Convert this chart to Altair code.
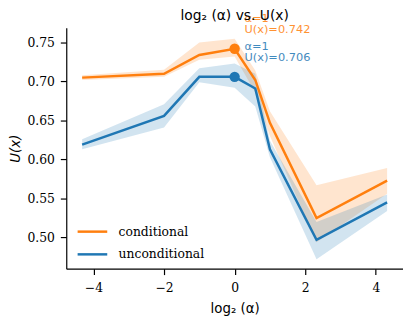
import altair as alt
import pandas as pd

# data
log2_alpha = [-4.32, -2.0, -1.0, 0.0, 0.585, 1.0, 2.32, 4.32]
series_names = ["conditional", "unconditional"]
cond_mean = [0.705, 0.710, 0.734, 0.742, 0.702, 0.647, 0.525, 0.573]
cond_lo = [0.702, 0.706, 0.728, 0.732, 0.686, 0.630, 0.494, 0.556]
cond_hi = [0.708, 0.715, 0.750, 0.755, 0.714, 0.662, 0.567, 0.589]
unc_mean = [0.619, 0.656, 0.706, 0.706, 0.691, 0.613, 0.497, 0.545]
unc_lo = [0.613, 0.641, 0.699, 0.692, 0.668, 0.603, 0.472, 0.534]
unc_hi = [0.626, 0.671, 0.717, 0.723, 0.710, 0.624, 0.520, 0.555]
colors = ["#ff7f0e", "#1f77b4"]
best_x = 0.0
best_vals = [0.742, 0.706]

rows = []
for name, m, lo, hi in [(series_names[0], cond_mean, cond_lo, cond_hi),
                        (series_names[1], unc_mean, unc_lo, unc_hi)]:
    for x, a, b, c in zip(log2_alpha, m, lo, hi):
        rows.append({"x": x, "y": a, "lo": b, "hi": c, "series": name, "grp": name})
df = pd.DataFrame(rows)

best_df = pd.DataFrame({"x": [best_x, best_x], "y": best_vals, "grp": series_names,
                        "l1": ["α=1", "α=1"],
                        "l2": [f"U(x)={v:.3f}" for v in best_vals]})

xs = alt.Scale(domain=[-4.77, 4.77], nice=False, zero=False)
ys = alt.Scale(domain=[0.460, 0.769], nice=False, zero=False)
cs = alt.Scale(domain=series_names, range=colors)
# fill scale: data-driven domain (alphabetical = same order), kept separate from the legend scale
cs2 = alt.Scale(range=colors)

X = alt.X("x:Q", scale=xs, axis=alt.Axis(values=[-4, -2, 0, 2, 4], format="d", title="log₂ (α)"))
Y = alt.Y("y:Q", scale=ys, axis=alt.Axis(values=[0.50, 0.55, 0.60, 0.65, 0.70, 0.75], format=".2f", title="U(x)"))

band = alt.Chart(df).mark_area(opacity=0.2).encode(
    x=alt.X("x:Q", scale=xs),
    y=alt.Y("lo:Q", scale=ys),
    y2="hi:Q",
    fill=alt.Fill("grp:N", scale=cs2, legend=None),
    detail="grp:N",
)

lines = alt.Chart(df).mark_line(strokeWidth=2.5).encode(
    x=X,
    y=Y,
    color=alt.Color("series:N", scale=cs,
                    legend=alt.Legend(title=None, orient="none", legendX=10, legendY=190,
                                      symbolType="stroke", symbolSize=900, symbolStrokeWidth=2.5,
                                      labelFont="DejaVu Serif", labelFontSize=12.5, labelOffset=10,
                                      labelColor="black", rowPadding=-2.5)),
)

pts = alt.Chart(best_df).mark_point(filled=True, size=110, opacity=1).encode(
    x=alt.X("x:Q", scale=xs),
    y=alt.Y("y:Q", scale=ys),
    fill=alt.Fill("grp:N", scale=cs2, legend=None),
)

t1 = alt.Chart(best_df).mark_text(align="left", baseline="middle", dx=10, dy=-30,
                                   font="DejaVu Sans", fontSize=11.5, opacity=0.85).encode(
    x=alt.X("x:Q", scale=xs), y=alt.Y("y:Q", scale=ys), text="l1:N",
    fill=alt.Fill("grp:N", scale=cs2, legend=None),
)
t2 = alt.Chart(best_df).mark_text(align="left", baseline="middle", dx=10, dy=-19,
                                   font="DejaVu Sans", fontSize=11.5, opacity=0.85).encode(
    x=alt.X("x:Q", scale=xs), y=alt.Y("y:Q", scale=ys), text="l2:N",
    fill=alt.Fill("grp:N", scale=cs2, legend=None),
)

chart = alt.layer(band, lines, pts, t1, t2).properties(
    width=341, height=244,
    title=alt.Title("log₂ (α) vs. U(x)", font="DejaVu Sans", fontSize=14, fontWeight="normal",
                    anchor="middle", offset=4, dy=14, color="black"),
    padding={"left": 59, "top": 18, "right": 0, "bottom": 50},
    autosize=alt.AutoSizeParams(type="none"),
).configure_view(stroke=None).configure_axis(
    grid=False, domainColor="black", tickColor="black", tickSize=6, domainWidth=1.2, tickWidth=1.2,
    labelFont="DejaVu Serif", labelFontSize=12.5, labelColor="black",
    titleFont="DejaVu Sans", titleFontSize=13.5, titleFontWeight="normal", titleColor="black",
).configure_axisY(titleFontStyle="italic", titlePadding=5, labelPadding=6).configure_axisX(
    titlePadding=8, labelPadding=7)

chart.save("out.html", embed_options={"renderer": "svg", "actions": False})
